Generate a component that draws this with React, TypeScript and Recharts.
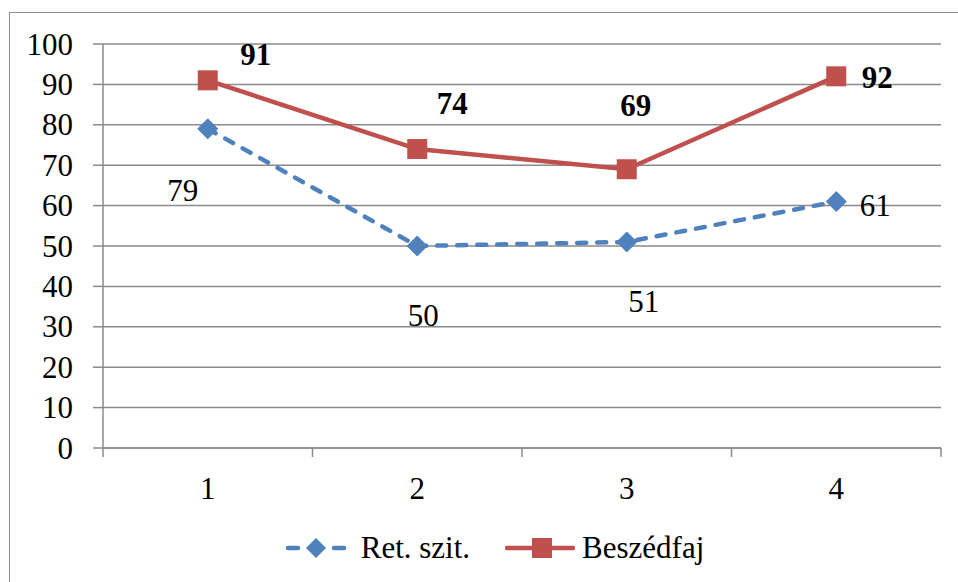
import { LineChart, Line, XAxis, YAxis, CartesianGrid, Legend, LabelList } from "recharts";

const categories = ["1", "2", "3", "4"];
const retSzit = [79, 50, 51, 61];
const beszedfaj = [91, 74, 69, 92];
const yTicks = [0, 10, 20, 30, 40, 50, 60, 70, 80, 90, 100];

const BLUE = "#4F81BD";
const RED = "#C0504D";
const GRID = "#8a8a8a";
const FONT = "Liberation Serif, Times New Roman, serif";
const FONT_SIZE = 31;

// label placement per point (Excel had them dragged around by hand)
const BLUE_LABEL_SHIFT = [
  [-25, 62],
  [6, 69],
  [17, 60],
  [39, 4],
];
const RED_LABEL_SHIFT = [
  [48, -26],
  [35, -46],
  [9, -64],
  [41, 1],
];

const data = categories.map((c, i) => ({
  cat: c,
  ret: retSzit[i],
  besz: beszedfaj[i],
}));

function Diamond(props: { cx?: number; cy?: number }) {
  const { cx, cy } = props;
  if (cx == null || cy == null) return null;
  const r = 10;
  return (
    <polygon
      points={`${cx},${cy - r} ${cx + r},${cy} ${cx},${cy + r} ${cx - r},${cy}`}
      fill={BLUE}
      stroke={BLUE}
      strokeWidth={1}
    />
  );
}

function Square(props: { cx?: number; cy?: number }) {
  const { cx, cy } = props;
  if (cx == null || cy == null) return null;
  return <rect x={cx - 10} y={cy - 10} width={20} height={20} fill={RED} />;
}

function makeLabel(shift: number[][], bold: boolean) {
  return (props: any) => {
    const { x, y, value, index } = props;
    if (x == null || y == null) return null;
    const [dx, dy] = shift[index] ?? [0, 0];
    return (
      <text
        x={x + dx}
        y={y + dy}
        textAnchor="middle"
        dominantBaseline="central"
        style={{ fontFamily: FONT, fontSize: FONT_SIZE, fontWeight: bold ? "bold" : "normal" }}
        fill="#000"
      >
        {value}
      </text>
    );
  };
}

function CategoryTick(props: any) {
  const { x, y, payload, visibleTicksCount } = props;
  const half = payload?.offset ?? 0;
  const last = payload?.index === (visibleTicksCount ?? categories.length) - 1;
  return (
    <g>
      <line x1={x - half} x2={x - half} y1={y} y2={y + 9} stroke={GRID} strokeWidth={1.5} />
      {last && <line x1={x + half} x2={x + half} y1={y} y2={y + 9} stroke={GRID} strokeWidth={1.5} />}
      <text
        x={x}
        y={y + 40}
        textAnchor="middle"
        dominantBaseline="central"
        style={{ fontFamily: FONT, fontSize: FONT_SIZE }}
        fill="#000"
      >
        {payload.value}
      </text>
    </g>
  );
}

function ValueTick(props: any) {
  const { x, y, payload } = props;
  return (
    <text
      x={x}
      y={y}
      textAnchor="end"
      dominantBaseline="central"
      style={{ fontFamily: FONT, fontSize: FONT_SIZE }}
      fill="#000"
    >
      {payload.value}
    </text>
  );
}

function LegendBox() {
  const text = { fontFamily: FONT, fontSize: FONT_SIZE, color: "#000", lineHeight: "40px" };
  return (
    <div
      style={{
        display: "flex",
        justifyContent: "center",
        alignItems: "center",
        height: 40,
        paddingLeft: 30,
      }}
    >
      <svg width={64} height={24} style={{ marginRight: 13 }}>
        <line x1={4} x2={14} y1={12} y2={12} stroke={BLUE} strokeWidth={4.5} strokeLinecap="round" />
        <polygon points="32,2 42,12 32,22 22,12" fill={BLUE} />
        <line x1={50} x2={60} y1={12} y2={12} stroke={BLUE} strokeWidth={4.5} strokeLinecap="round" />
      </svg>
      <span style={{ ...text, marginRight: 35 }}>Ret. szit.</span>
      <svg width={70} height={24} style={{ marginRight: 7 }}>
        <line x1={2} x2={68} y1={12} y2={12} stroke={RED} strokeWidth={4.5} strokeLinecap="round" />
        <rect x={27} y={2} width={20} height={20} fill={RED} />
      </svg>
      <span style={text}>Beszédfaj</span>
    </div>
  );
}

export default function App() {
  return (
    <div style={{ position: "absolute", left: 0, top: 0, width: 958, height: 582, background: "#fff" }}>
      <div
        style={{
          position: "absolute",
          left: 9,
          top: 12,
          right: 0,
          bottom: 0,
          borderTop: "1.5px solid #8c8c8c",
          borderLeft: "1.5px solid #8c8c8c",
        }}
      />
      <LineChart
        width={958}
        height={582}
        data={data}
        margin={{ top: 44, right: 17, left: 0, bottom: 14 }}
        style={{ position: "absolute", left: 0, top: 0 }}
      >
        <CartesianGrid vertical={false} stroke={GRID} strokeWidth={1.5} />
        <XAxis
          dataKey="cat"
          scale="band"
          height={80}
          axisLine={{ stroke: GRID, strokeWidth: 1.5 }}
          tickLine={false}
          tickSize={0}
          tickMargin={0}
          tick={<CategoryTick />}
          interval={0}
        />
        <YAxis
          domain={[0, 100]}
          ticks={yTicks}
          width={103}
          axisLine={{ stroke: GRID, strokeWidth: 1.5 }}
          tickLine={{ stroke: GRID, strokeWidth: 1.5 }}
          tickSize={10}
          tickMargin={20}
          tick={<ValueTick />}
          interval={0}
        />
        <Legend verticalAlign="bottom" wrapperStyle={{ left: 0, width: 958 }} content={<LegendBox />} />
        <Line
          dataKey="ret"
          name="Ret. szit."
          stroke={BLUE}
          strokeWidth={4.5}
          strokeDasharray="9 11"
          strokeLinecap="round"
          dot={<Diamond />}
          activeDot={false}
          isAnimationActive={false}
        >
          <LabelList dataKey="ret" content={makeLabel(BLUE_LABEL_SHIFT, false)} />
        </Line>
        <Line
          dataKey="besz"
          name="Beszédfaj"
          stroke={RED}
          strokeWidth={4.5}
          dot={<Square />}
          activeDot={false}
          isAnimationActive={false}
        >
          <LabelList dataKey="besz" content={makeLabel(RED_LABEL_SHIFT, true)} />
        </Line>
      </LineChart>
    </div>
  );
}
